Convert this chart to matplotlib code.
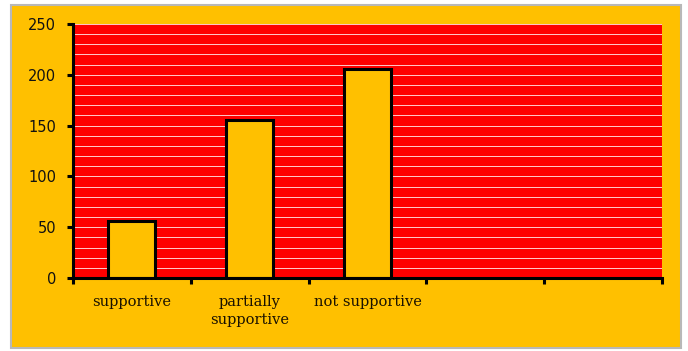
import numpy as np
import matplotlib
matplotlib.use("Agg")
import matplotlib.pyplot as plt
from matplotlib.patches import Rectangle

# Dữ liệu
categories = ["supportive", "partially\nsupportive", "not supportive", "", ""]
values = [56, 156, 206]
y_ticks = [0, 50, 100, 150, 200, 250]

orange = "#FFC000"

fig = plt.figure(figsize=(6.88, 3.51), dpi=100)
fig.patch.set_facecolor("white")

# Khung nền cam với viền xám
fig.patches.append(Rectangle((11 / 688, 3 / 351), 670 / 688, 343 / 351,
                             transform=fig.transFigure, facecolor=orange,
                             edgecolor="#b8b8b8", linewidth=1.5, zorder=-10))

ax = fig.add_axes([73 / 688, 73 / 351, 589 / 688, 254 / 351])
ax.set_facecolor("#FF0000")

x = np.arange(len(categories))
ax.bar(x[:len(values)], values, width=0.4, color=orange,
       edgecolor="black", linewidth=2.2, zorder=3)

ax.set_xlim(-0.5, len(categories) - 0.5)
ax.set_ylim(0, 250)

# Lưới ngang trắng, mỗi 10 đơn vị
for g in range(10, 251, 10):
    ax.axhline(g, color="white", linewidth=0.7, alpha=0.8, zorder=1)

ax.set_yticks(y_ticks)
ax.set_yticklabels([str(v) for v in y_ticks], fontsize=10.5, color="#111111",
                   family="DejaVu Sans")
ax.tick_params(axis="y", direction="out", length=4, width=2.2, pad=8)

# Vạch chia ở ranh giới giữa các nhóm
ax.set_xticks(np.arange(-0.5, len(categories), 1.0), minor=True)
ax.tick_params(axis="x", which="minor", direction="out", length=4, width=2.2)
ax.set_xticks(x)
ax.set_xticklabels(categories, fontsize=10.5, color="#1a1200",
                   family="DejaVu Serif", linespacing=1.35)
ax.tick_params(axis="x", which="major", length=0, pad=12)

for side in ["top", "right"]:
    ax.spines[side].set_visible(False)
for side in ["left", "bottom"]:
    ax.spines[side].set_linewidth(2.2)
    ax.spines[side].set_color("black")
    ax.spines[side].set_zorder(4)

fig.savefig("out.png", dpi=100, facecolor=fig.get_facecolor())
